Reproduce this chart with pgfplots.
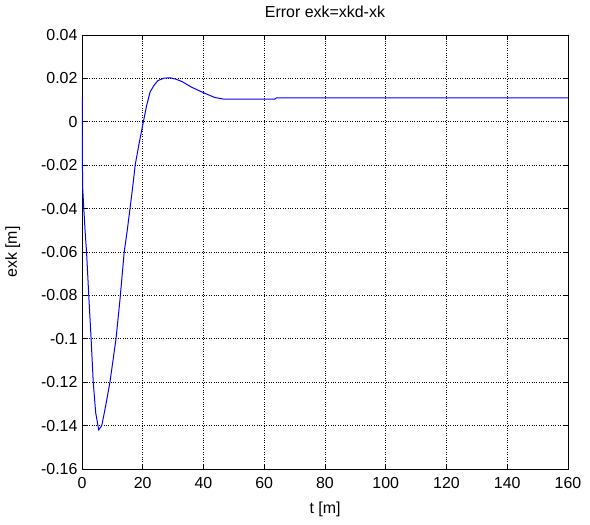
\documentclass[border=0pt]{standalone}
\usepackage{pgfplots}
\pgfplotsset{compat=1.18}
\usepackage{fontspec}
\setmainfont{Liberation Sans}
\begin{document}
\begin{tikzpicture}
\begin{axis}[
  width=486bp, height=434bp, scale only axis,
  xmin=0, xmax=160, ymin=-0.16, ymax=0.04,
  xtick={0,20,...,160},
  ytick={-0.16,-0.14,...,0.04},
  yticklabel style={/pgf/number format/fixed, /pgf/number format/precision=2, xshift=-1bp},
  xticklabel style={yshift=-5bp},
  /pgf/number format/assume math mode=true,
  scaled y ticks=false,
  tick align=inside, tick pos=both,
  major tick length=5bp,
  grid=major,
  major grid style={black, dotted, line width=0.6pt},
  axis line style={black, line width=0.8pt},
  tick style={black, line width=0.6pt},
  font=\fontsize{16}{18}\selectfont,
  title={Error exk=xkd-xk},
  xlabel={t [m]}, ylabel={exk [m]},
  title style={at={(axis description cs:0.5,1.039)}, anchor=center},
  xlabel style={at={(axis description cs:0.5,-0.0922)}, anchor=center},
  ylabel style={yshift=14bp},
]
\addplot[blue, line width=1pt] coordinates {
(0,0.011) (0.2,-0.03) (0.6,-0.04) (1.0,-0.05) (1.5,-0.06) (2.3,-0.082) (3.0,-0.1) (3.7,-0.12) (4.5,-0.134) (5.5,-0.142) (6.5,-0.14) (7.5,-0.133) (8.3,-0.127) (9.2,-0.12) (10.2,-0.11) (11.2,-0.1) (12.5,-0.082) (13.9,-0.06) (14.9,-0.05) (15.8,-0.04) (16.7,-0.03) (17.5,-0.02) (18.8,-0.01) (20.2,0) (21.2,0.007) (22.4,0.0137) (23.7,0.0168) (25,0.019) (27,0.0201) (29,0.0203) (31,0.0196) (33,0.0185) (36,0.0160) (40,0.0134) (43.7,0.0112) (46.5,0.0105) (63.5,0.0105) (64,0.011) (160,0.011)
};
\end{axis}
\path (current axis.south west) +(-82bp,-56bp) (current axis.north east) +(22bp,35bp);
\end{tikzpicture}
\end{document}
